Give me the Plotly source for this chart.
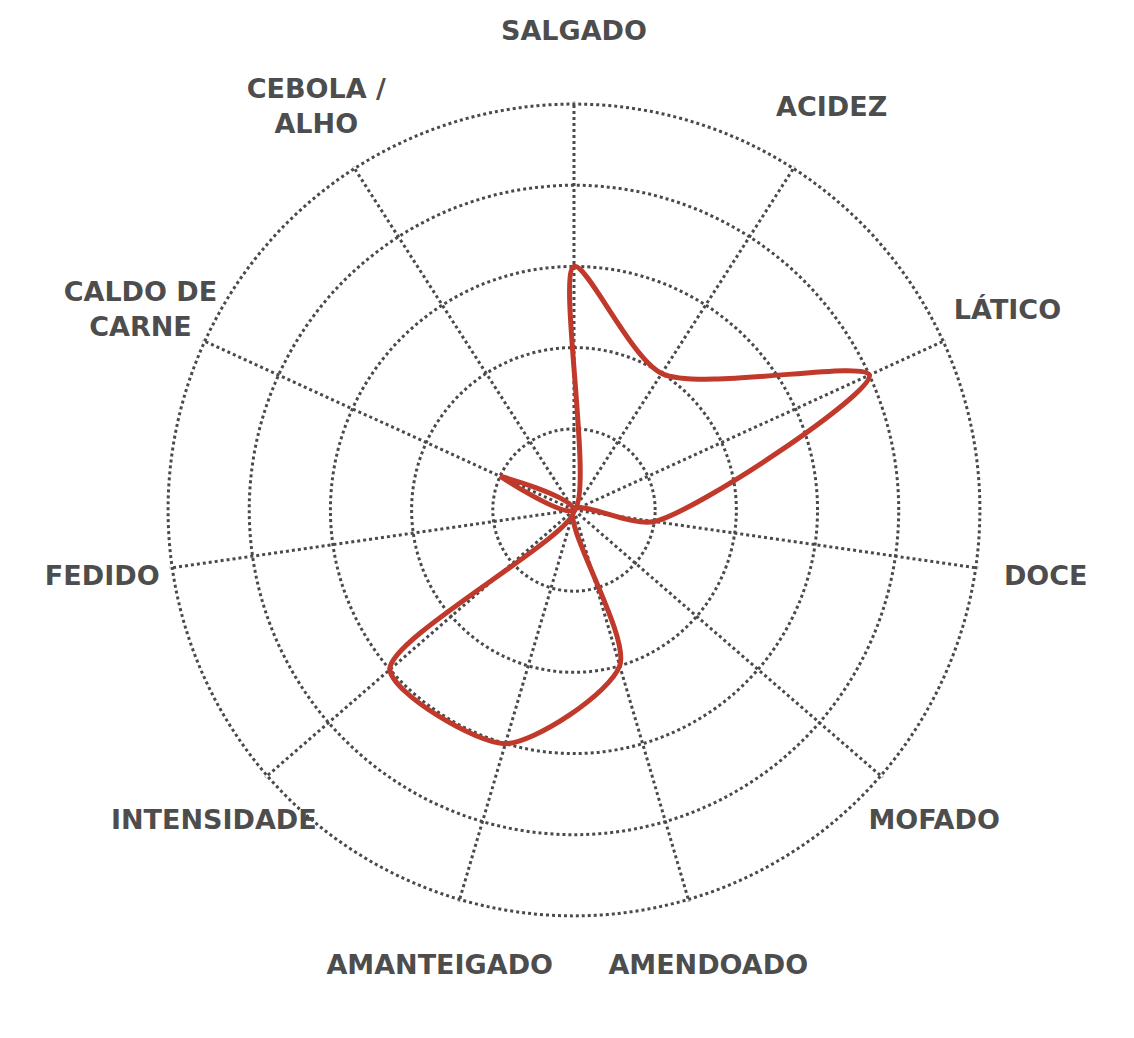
import plotly.graph_objects as go

categorias = ["SALGADO", "ACIDEZ", "LÁTICO", "DOCE", "MOFADO", "AMENDOADO",
              "AMANTEIGADO", "INTENSIDADE", "FEDIDO", "CALDO DE CARNE", "CEBOLA / ALHO"]
rotulos = ["SALGADO", "ACIDEZ", "LÁTICO", "DOCE", "MOFADO", "AMENDOADO",
           "AMANTEIGADO", "INTENSIDADE", "FEDIDO", "CALDO DE<br>CARNE", "CEBOLA /<br>ALHO"]
valores = [3, 2, 4, 1, 0, 2, 3, 3, 0, 1, 0]

ESCALA_MAX = 5
RAIO_ROTULO = 5.87  # rótulos centrados um pouco fora do círculo externo

# fecha o contorno
r = valores + [valores[0]]
theta = categorias + [categorias[0]]

fig = go.Figure()
fig.add_trace(go.Scatterpolar(
    r=r, theta=theta, mode="lines",
    line=dict(color="#c0392b", width=5, shape="spline", smoothing=0.75),
    hoverinfo="skip", showlegend=False,
))
# rótulos num segundo eixo polar, maior e invisível, com a mesma escala
fig.add_trace(go.Scatterpolar(
    r=[RAIO_ROTULO] * len(categorias), theta=categorias, mode="text",
    text=rotulos, textposition="middle center", cliponaxis=False,
    textfont=dict(size=27, family="DejaVu Sans", weight="bold", color="#4d4d4d"),
    hoverinfo="skip", showlegend=False, subplot="polar2",
))

grid = dict(gridcolor="#4a4a4a", griddash="dot", gridwidth=2.5)

# polar: raio 408.3 px para 5.03 -> 81.2 px por unidade
# polar2: mesmo centro, raio 500 px -> 500 / 81.2 = 6.158
fig.update_layout(
    width=1134, height=1038,
    margin=dict(l=0, r=0, t=0, b=0),
    paper_bgcolor="white",
    font=dict(family="DejaVu Sans", color="#4a4a4a"),
    polar=dict(
        domain=dict(x=[0.1390, 0.8592], y=[0.1230, 0.9098]),
        bgcolor="white",
        radialaxis=dict(range=[0, ESCALA_MAX + 0.03], tickvals=[1, 2, 3, 4, 5],
                        showticklabels=False, ticks="", showline=False, **grid),
        angularaxis=dict(rotation=90, direction="clockwise", ticks="", showticklabels=False,
                         showline=False, layer="below traces", **grid),
    ),
    polar2=dict(
        domain=dict(x=[0.0582, 0.9400], y=[0.03468, 0.99807]),
        bgcolor="rgba(0,0,0,0)",
        radialaxis=dict(range=[0, 6.158], visible=False, showgrid=False),
        angularaxis=dict(rotation=90, direction="clockwise", categoryorder="array",
                         categoryarray=categorias, visible=False, showgrid=False),
    ),
)

fig.write_html("out.html")
